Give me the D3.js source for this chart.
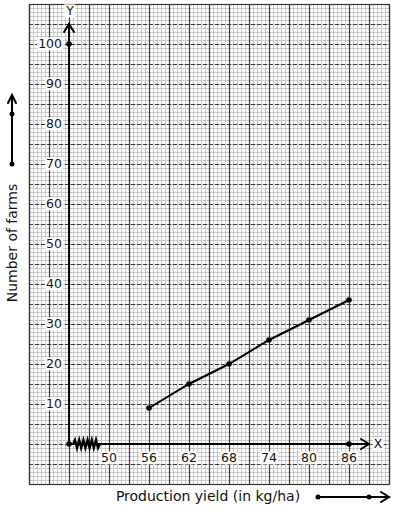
<!DOCTYPE html>
<html>
<head>
<meta charset="utf-8">
<script src="https://cdn.jsdelivr.net/npm/d3@7"></script>
<style>
  body { margin: 0; background: #fff; }
  svg { display: block; font-family: "DejaVu Sans", sans-serif; }
</style>
</head>
<body>
<svg width="394" height="510"></svg>
<script>
var classes = [56, 62, 68, 74, 80, 86],
    farms   = [9, 15, 20, 26, 31, 36],
    xTicks  = [50, 56, 62, 68, 74, 80, 86],
    yTicks  = [10, 20, 30, 40, 50, 60, 70, 80, 90, 100];

var svg = d3.select('svg');

// graph paper: 5 units per major square on each axis (x in steps of 3, y in steps of 5)
var x = d3.scaleLinear().domain([38, 92]).range([29, 389]),
    y = d3.scaleLinear().domain([-10, 110]).range([484, 4]);

var grid = svg.append('g');

grid.selectAll('line.vmin').data(d3.range(38, 92.01, 0.6)).enter().append('line')
    .attr('x1', function(d) { return Math.round(x(d)) + 0.5; })
    .attr('x2', function(d) { return Math.round(x(d)) + 0.5; })
    .attr('y1', y(110)).attr('y2', y(-10))
    .attr('stroke', '#c8c8c8').attr('stroke-width', 1);

grid.selectAll('line.hmin').data(d3.range(-10, 110.01, 1)).enter().append('line')
    .attr('y1', function(d) { return Math.round(y(d)) + 0.5; })
    .attr('y2', function(d) { return Math.round(y(d)) + 0.5; })
    .attr('x1', x(38)).attr('x2', x(92))
    .attr('stroke', '#c8c8c8').attr('stroke-width', 1);

grid.selectAll('line.vmaj').data(d3.range(38, 92.01, 3)).enter().append('line')
    .attr('x1', function(d) { return Math.round(x(d)) + 0.5; })
    .attr('x2', function(d) { return Math.round(x(d)) + 0.5; })
    .attr('y1', y(110)).attr('y2', y(-10))
    .attr('stroke', '#3a3a3a').attr('stroke-width', 1.2);

grid.selectAll('line.hmaj').data(d3.range(-10, 110.01, 5)).enter().append('line')
    .attr('y1', function(d) { return Math.round(y(d)) + 0.5; })
    .attr('y2', function(d) { return Math.round(y(d)) + 0.5; })
    .attr('x1', x(38)).attr('x2', x(92))
    .attr('stroke', '#3a3a3a').attr('stroke-width', 1.2)
    .attr('stroke-dasharray', '4,2');

grid.append('rect')
    .attr('x', x(38) + 0.5).attr('y', y(110) + 0.5)
    .attr('width', x(92) - x(38)).attr('height', y(-10) - y(110))
    .attr('fill', 'none').attr('stroke', '#333').attr('stroke-width', 1.2);

// labels with white backing
function label(g, txt, px, py, anchor) {
  var t = g.append('text').attr('x', px).attr('y', py)
      .attr('text-anchor', anchor).attr('dy', '0.35em')
      .attr('font-size', 12.5).attr('fill', '#111').text(txt);
  var b = t.node().getBBox();
  g.insert('rect', 'text:last-child')
      .attr('x', b.x - 1).attr('y', b.y + 1)
      .attr('width', b.width + 2).attr('height', b.height - 2)
      .attr('fill', '#fff');
  return t;
}

var labels = svg.append('g');
yTicks.forEach(function(d) {
  var g = labels.append('g');
  label(g, d, 62, y(d), 'end');
});
xTicks.forEach(function(d) {
  var g = labels.append('g');
  label(g, d, x(d), y(0) + 14, 'middle');
});
label(labels.append('g'), 'Y', x(44) + 1, 11, 'middle');
label(labels.append('g'), 'X', 378, y(0), 'middle');

// axes
var axes = svg.append('g').attr('stroke', '#000').attr('fill', 'none')
    .attr('stroke-width', 2).attr('stroke-linecap', 'round');

axes.append('line').attr('x1', x(44)).attr('x2', x(44))
    .attr('y1', y(0)).attr('y2', 24);
axes.append('path').attr('d', d3.line()([[x(44) - 5, 32], [x(44), 24], [x(44) + 5, 32]]));

axes.append('line').attr('x1', x(44)).attr('x2', 369)
    .attr('y1', y(0)).attr('y2', y(0));
axes.append('path').attr('d', d3.line()([[361, y(0) - 5], [369, y(0)], [361, y(0) + 5]]));

// kink in x axis
var zz = [[73, y(0)]];
for (var i = 0; i < 6; i++) {
  zz.push([75 + i * 4.2, y(0) - 4]);
  zz.push([77 + i * 4.2, y(0) + 4]);
}
zz.push([100, y(0)]);
svg.append('path').attr('d', d3.line()(zz))
    .attr('fill', 'none').attr('stroke', '#000').attr('stroke-width', 2.4);

// data line
var pts = classes.map(function(c, i) { return [x(c), y(farms[i])]; });
svg.append('path').attr('d', d3.line()(pts))
    .attr('fill', 'none').attr('stroke', '#000').attr('stroke-width', 2);

var dots = pts.concat([[x(44), y(0)], [x(44), y(100)], [x(86), y(0)]]);
svg.selectAll('circle.pt').data(dots).enter().append('circle')
    .attr('cx', function(d) { return d[0]; })
    .attr('cy', function(d) { return d[1]; })
    .attr('r', 2.8).attr('fill', '#000');

// axis titles
svg.append('text').attr('x', 208).attr('y', 501)
    .attr('text-anchor', 'middle').attr('font-size', 14).attr('fill', '#111')
    .text('Production yield (in kg/ha)');
svg.append('text')
    .attr('transform', 'translate(17,243) rotate(-90)')
    .attr('text-anchor', 'middle').attr('font-size', 14).attr('fill', '#111')
    .text('Number of farms');

// scale arrows
var sa = svg.append('g').attr('stroke', '#000').attr('fill', 'none')
    .attr('stroke-width', 2).attr('stroke-linecap', 'round');
sa.append('line').attr('x1', 12).attr('x2', 12).attr('y1', 164).attr('y2', 95);
sa.append('path').attr('d', d3.line()([[8, 103], [12, 95], [16, 103]]));
sa.append('line').attr('x1', 318).attr('x2', 389).attr('y1', 497).attr('y2', 497);
sa.append('path').attr('d', d3.line()([[381, 492], [389, 497], [381, 502]]));
svg.selectAll('circle.sc').data([[12, 164], [12, 114], [318, 497], [369, 497]]).enter()
    .append('circle')
    .attr('cx', function(d) { return d[0]; })
    .attr('cy', function(d) { return d[1]; })
    .attr('r', 2.5).attr('fill', '#000');
</script>
</body>
</html>
